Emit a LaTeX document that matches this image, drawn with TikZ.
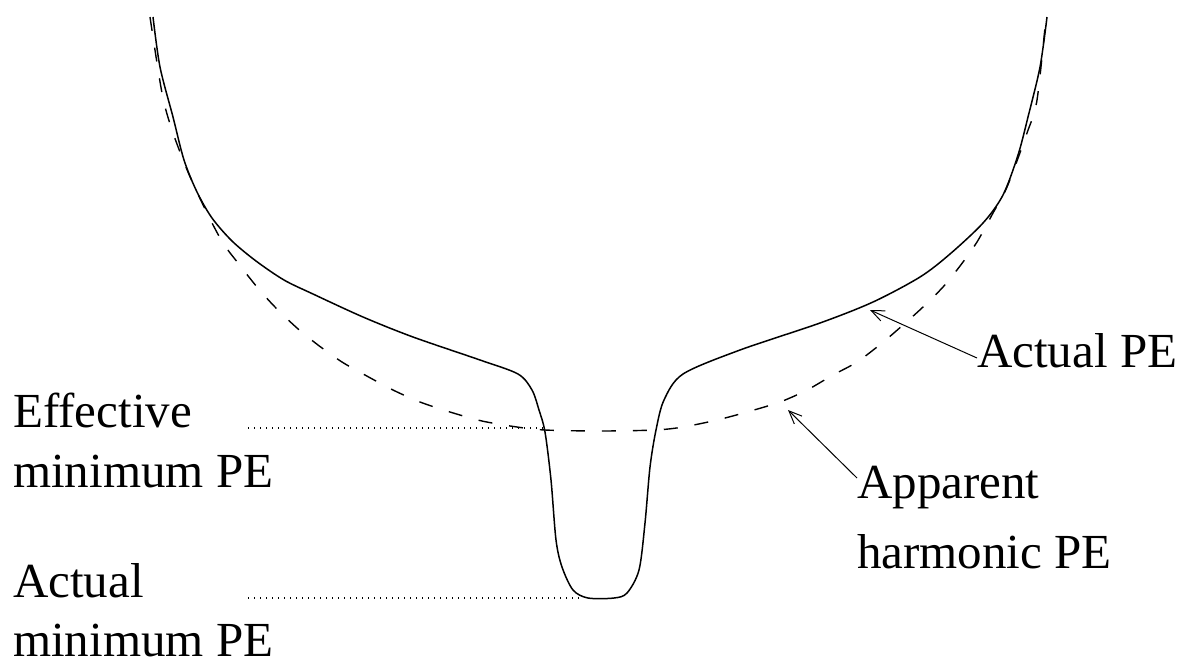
\documentclass[tikz,border=0pt]{standalone}
\usepackage{fontspec}
\setmainfont{Liberation Serif}
\usetikzlibrary{arrows.meta}
\begin{document}
\begin{tikzpicture}[x=1pt,y=-1pt,
  lbl/.style={anchor=base west,inner sep=0pt,font=\fontsize{49}{59}\selectfont},
  actual/.style={line width=1.5pt,line join=round},
  harmonic/.style={line width=1.4pt,dash pattern=on 14pt off 17pt},
  guide/.style={line width=1.2pt,dash pattern=on 1.2pt off 4.8pt},
  pointer/.style={line width=1pt,-{Straight Barb[length=13pt,width=11pt,line width=1pt]}}]
\useasboundingbox (0,0) rectangle (1182,662);
% apparent harmonic PE (dashed)
\draw[harmonic] plot[smooth,tension=0.5] coordinates {
 (150,17) (162,93) (172,130) (188,172) (207,213) (223,243) (238,263) (257,287)
 (275,307) (297,328) (318,345) (342,362) (365,375) (393,390) (420,402)
 (450,412) (482,421) (517,427) (545,430) (600,431) (655,430) (683,427)
 (717,420) (747,412) (780,402) (807,390) (833,375) (857,362) (882,343)
 (903,325) (923,307) (943,287) (960,266) (977,242) (993,213) (1007,187)
 (1027,133) (1037,100) (1046,17)};
% actual PE (solid)
\draw[actual] plot[smooth,tension=0.5] coordinates {
 (153,17) (160,67) (173,117) (184,160) (197,192) (212,218) (232,241)
 (256,261) (284,280) (313,294) (363,317) (413,337) (480,360) (518,374)
 (532,390) (539,410) (545,432) (551,480) (556,540) (562,567) (573,590)
 (588,598) (614,598) (627,593) (639,570) (645,523) (650,467) (656,430)
 (664,400) (683,374) (740,350) (820,323) (873,302) (920,277) (950,254)
 (983,223) (1003,195) (1018,155) (1028,117) (1040,67) (1047,17)};
% guide lines
\coordinate (effend) at (547,428);
\coordinate (actend) at (582,598);
\coordinate (effstart) at (248,428);
\coordinate (actstart) at (248,598);
\draw[guide] (effstart) -- (effend);
\draw[guide] (actstart) -- (actend);
% labels
\node[lbl] (eff1) at (13,427) {Effective};
\node[lbl] (eff2) at (13,487) {minimum PE};
\node[lbl] (act1) at (13,597) {Actual};
\node[lbl] (act2) at (13,656) {minimum PE};
\node[lbl] (ape) at (977,367) {Actual PE};
\node[lbl] (app1) at (857,498) {Apparent};
\node[lbl] (app2) at (857,568) {harmonic PE};
% pointers
\coordinate (apetip) at (870,310);
\coordinate (apptip) at (788,410);
\draw[pointer] (ape.base west) ++(0,-9) -- (apetip);
\draw[pointer] (app1.base west) ++(0,-20) -- (apptip);
\end{tikzpicture}
\end{document}
